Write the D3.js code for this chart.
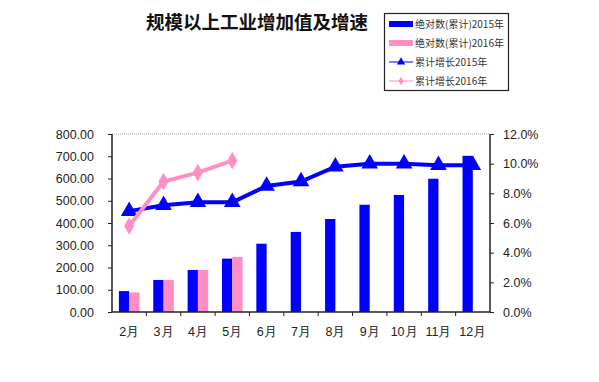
<!DOCTYPE html>
<html><head><meta charset="utf-8">
<script src="https://cdn.jsdelivr.net/npm/d3@7"></script>
<style>body{margin:0;background:#fff}svg{display:block}</style>
</head><body>
<svg id="c" width="599" height="382"></svg>
<script>
const months = ["2月","3月","4月","5月","6月","7月","8月","9月","10月","11月","12月"];
const abs2015 = [94,144,189,240,307,360,418,482,526,599,702];
const abs2016 = [88,144,189,248,null,null,null,null,null,null,null];
const grow2015 = [6.8,7.2,7.4,7.4,8.5,8.8,9.8,10.0,10.0,9.9,9.9];
const grow2016 = [5.8,8.8,9.4,10.2,null,null,null,null,null,null,null];
const leftTicks = [0,100,200,300,400,500,600,700,800];
const rightTicks = [0,2,4,6,8,10,12];
const legendLabels = ["绝对数(累计)2015年","绝对数(累计)2016年","累计增长2015年","累计增长2016年"];

const svg = d3.select("#c");
const L=112,R=490,T=134,B=312;
const BLUE="#0000ff", PINK="#ff8ec6";
const x = d3.scaleBand().domain(months).range([L,R]);
const yL = d3.scaleLinear().domain([0,800]).range([B,T]);
const yR = d3.scaleLinear().domain([0,12]).range([B,T]);
const font = "Arial, 'Liberation Sans', sans-serif";

// title
svg.append("text").attr("x",257).attr("y",29).attr("text-anchor","middle")
  .attr("font-family","'Noto Sans CJK SC', sans-serif").attr("font-weight","bold")
  .attr("font-size",18.5).attr("fill","#111").text("规模以上工业增加值及增速");

// top border
svg.append("line").attr("x1",L).attr("x2",R).attr("y1",T).attr("y2",T)
  .attr("stroke","#aaa").attr("stroke-dasharray","1,1");

// bars
const bw = 10.3;
svg.append("g").selectAll("rect").data(abs2015).join("rect")
  .attr("x",(d,i)=>x(months[i])+x.bandwidth()/2-bw).attr("width",bw)
  .attr("y",d=>yL(d)).attr("height",d=>B-yL(d)).attr("fill",BLUE);
svg.append("g").selectAll("rect").data(abs2016.map((v,i)=>({v,i})).filter(d=>d.v!=null)).join("rect")
  .attr("x",d=>x(months[d.i])+x.bandwidth()/2).attr("width",bw)
  .attr("y",d=>yL(d.v)).attr("height",d=>B-yL(d.v)).attr("fill",PINK);

// axes
const gl = svg.append("g").attr("transform",`translate(${L},0)`)
  .call(d3.axisLeft(yL).tickValues(leftTicks).tickFormat(d3.format(".2f")).tickSize(4).tickPadding(14));
const gr = svg.append("g").attr("transform",`translate(${R},0)`)
  .call(d3.axisRight(yR).tickValues(rightTicks).tickFormat(d=>d.toFixed(1)+"%").tickSize(4).tickPadding(9));
const gb = svg.append("g").attr("transform",`translate(0,${B})`)
  .call(d3.axisBottom(x).tickSize(0).tickPadding(15));
// category boundary ticks
svg.append("g").selectAll("line").data(months.slice(1)).join("line")
  .attr("x1",d=>x(d)).attr("x2",d=>x(d)).attr("y1",B).attr("y2",B+4).attr("stroke","#222");
[gl,gr,gb].forEach(g=>{
  g.selectAll("text").attr("font-family",font).attr("font-size",12.5).attr("fill","#222");
  g.select(".domain").attr("stroke","#222").attr("stroke-width",1.5);
  g.selectAll(".tick line").attr("stroke","#222");
});
gb.select(".domain").attr("d",`M${L},0H${R}`);
gl.select(".domain").attr("d",`M0,${T}V${B}`);
gr.select(".domain").attr("d",`M0,${T}V${B}`);

// lines
const line = d3.line().defined(d=>d.v!=null).x(d=>x(months[d.i])+x.bandwidth()/2).y(d=>yR(d.v));
const d15 = grow2015.map((v,i)=>({v,i})), d16 = grow2016.map((v,i)=>({v,i}));
svg.append("path").datum(d15).attr("d",line).attr("fill","none").attr("stroke",BLUE).attr("stroke-width",4);
svg.append("g").selectAll("path").data(d15).join("path")
  .attr("d",d3.symbol(d3.symbolTriangle,120)())
  .attr("transform",d=>`translate(${x(months[d.i])+x.bandwidth()/2},${yR(d.v)})`).attr("fill",BLUE);
svg.append("path").datum(d16).attr("d",line).attr("fill","none").attr("stroke",PINK).attr("stroke-width",4);
svg.append("g").selectAll("path").data(d16.filter(d=>d.v!=null)).join("path")
  .attr("d",d3.symbol(d3.symbolDiamond,90)())
  .attr("transform",d=>`translate(${x(months[d.i])+x.bandwidth()/2},${yR(d.v)})`).attr("fill",PINK);

// legend
const lg = svg.append("g");
lg.append("rect").attr("x",384.5).attr("y",13.5).attr("width",124).attr("height",77)
  .attr("fill","#fff").attr("stroke","#222").attr("stroke-width",1.2);
const ly = [24,43,62,81];
legendLabels.forEach((t,i)=>{
  const yy = ly[i];
  if(i<2){
    lg.append("rect").attr("x",389).attr("y",yy-3).attr("width",24).attr("height",6).attr("fill",i==0?BLUE:PINK);
  } else {
    const c = i==2?BLUE:PINK;
    lg.append("line").attr("x1",389).attr("x2",413).attr("y1",yy).attr("y2",yy).attr("stroke",c).attr("stroke-width",1);
    lg.append("path").attr("d",d3.symbol(i==2?d3.symbolTriangle:d3.symbolDiamond,i==2?30:20)())
      .attr("transform",`translate(401,${yy})`).attr("fill",c);
  }
  lg.append("text").attr("x",415).attr("y",yy+3.5).attr("font-family","'Noto Sans CJK SC', sans-serif")
    .attr("font-size",10).attr("fill","#333").text(t);
});
</script>
</body></html>
